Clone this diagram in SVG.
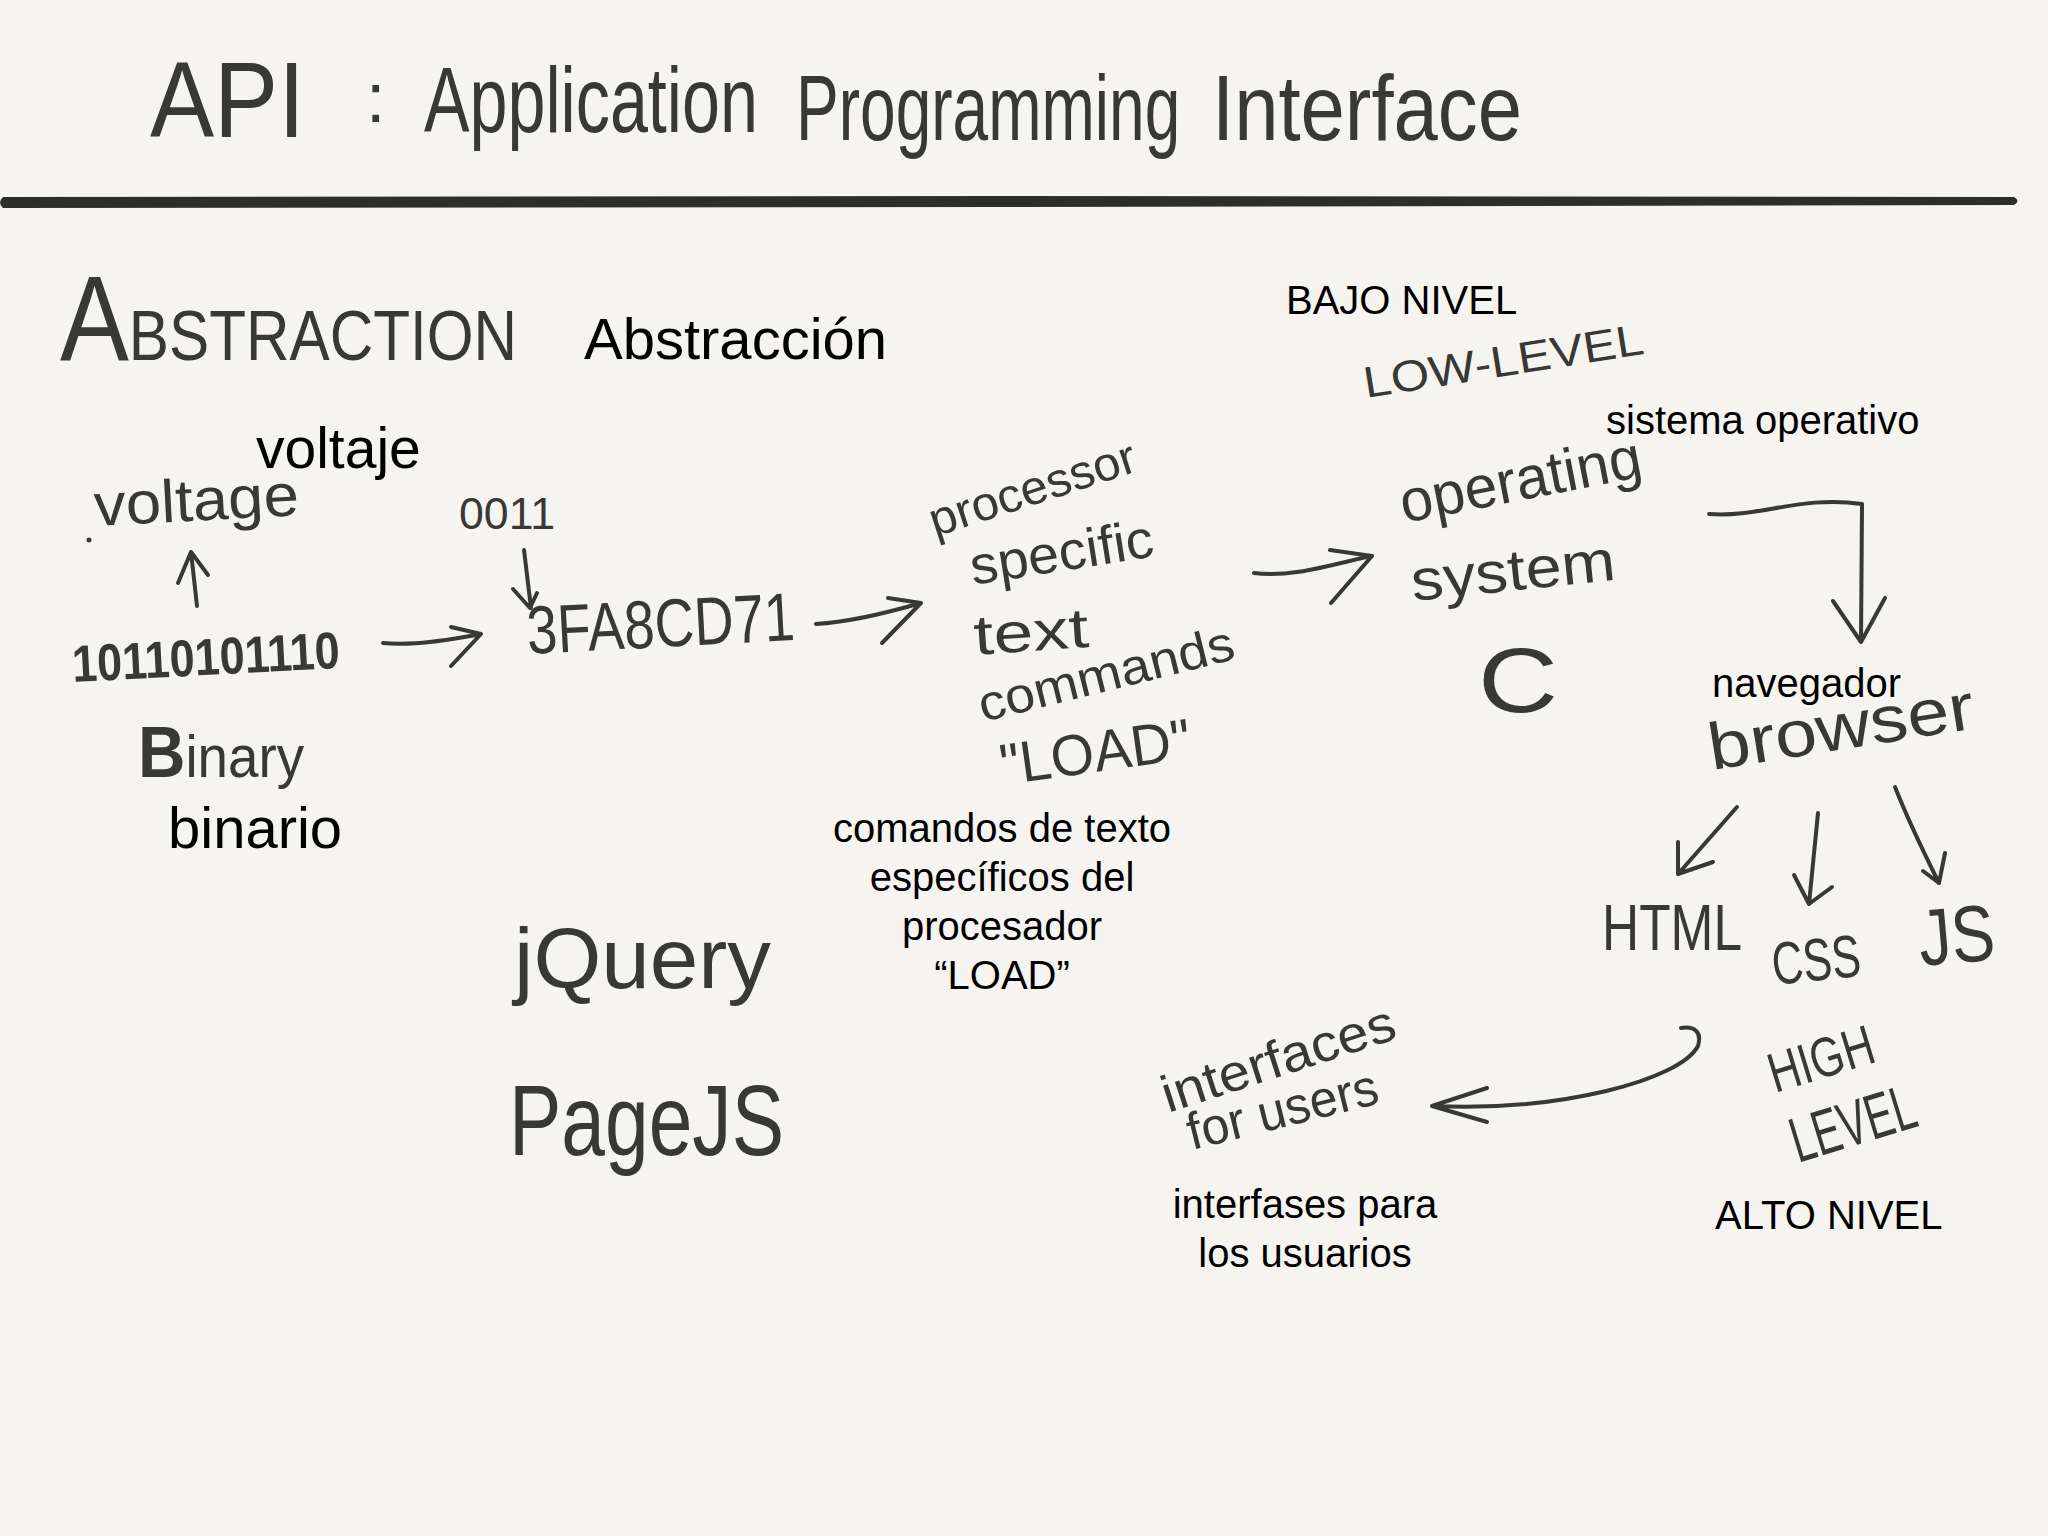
<svg xmlns="http://www.w3.org/2000/svg" width="2048" height="1536" viewBox="0 0 2048 1536">
<defs>
<style>
.hw{font-family:"Liberation Sans",Arial,sans-serif;fill:#383836;}
.pt{font-family:"Liberation Sans",Arial,sans-serif;fill:#000;}
.ln{fill:none;stroke:#383836;stroke-width:4;stroke-linecap:round;stroke-linejoin:round;}
</style>
</defs>
<rect width="2048" height="1536" fill="#f5f4f0"/>
<g id="title">
<text class="hw" transform="translate(150,137) scale(0.89,1)" font-size="108">API</text>
<text class="hw" transform="translate(366,122)" font-size="70">:</text>
<text class="hw" transform="translate(424,132) scale(0.742,1)" font-size="92">Application</text>
<text class="hw" transform="translate(796,140) scale(0.696,1)" font-size="92">Programming</text>
<text class="hw" transform="translate(1212,140) scale(0.866,1)" font-size="92">Interface</text>
<path d="M3,197 L1000,196 L2014,197 Q2021,201 2014,205 L1000,207 L3,208 Q-3,203 3,197 Z" fill="#2d2d2b"/>
</g>
<g id="abstraction">
<text class="hw" x="60" y="360" textLength="457" lengthAdjust="spacingAndGlyphs"><tspan font-size="120">A</tspan><tspan font-size="70">BSTRACTION</tspan></text>
<text class="pt" x="584" y="359" font-size="58">Abstracción</text>
</g>
<g id="voltage">
<text class="pt" x="256" y="468" font-size="57">voltaje</text>
<text class="hw" transform="translate(95,526) rotate(-3)" font-size="60" textLength="205" lengthAdjust="spacingAndGlyphs">voltage</text>
<circle cx="89" cy="540" r="2.5" fill="#383836"/>
</g>
<g id="binary">
<text class="hw" transform="translate(73,682) rotate(-3)" font-size="52" font-weight="bold" textLength="268" lengthAdjust="spacingAndGlyphs">10110101110</text>
<text class="hw" transform="translate(138,777)" font-size="60" textLength="166" lengthAdjust="spacingAndGlyphs"><tspan font-weight="bold" font-size="72">B</tspan>inary</text>
<text class="pt" x="168" y="848" font-size="58">binario</text>
</g>
<g id="hex">
<text class="hw" transform="translate(459,529)" font-size="44" textLength="96" lengthAdjust="spacingAndGlyphs">0011</text>
<text class="hw" transform="translate(528,654) rotate(-3)" font-size="68" textLength="268" lengthAdjust="spacingAndGlyphs">3FA8CD71</text>
</g>
<g id="processor">
<text class="hw" transform="translate(935,537) rotate(-18)" font-size="48" textLength="215" lengthAdjust="spacingAndGlyphs">processor</text>
<text class="hw" transform="translate(973,585) rotate(-9)" font-size="54" textLength="185" lengthAdjust="spacingAndGlyphs">specific</text>
<text class="hw" transform="translate(975,655) rotate(-4)" font-size="56" textLength="115" lengthAdjust="spacingAndGlyphs">text</text>
<text class="hw" transform="translate(983,722) rotate(-14)" font-size="50" textLength="262" lengthAdjust="spacingAndGlyphs">commands</text>
<text class="hw" transform="translate(1003,785) rotate(-8)" font-size="58" textLength="192" lengthAdjust="spacingAndGlyphs">"LOAD"</text>
<text class="pt" font-size="40" text-anchor="middle"><tspan x="1002" y="842">comandos de texto</tspan><tspan x="1002" y="891">específicos del</tspan><tspan x="1002" y="940">procesador</tspan><tspan x="1002" y="989">“LOAD”</tspan></text>
</g>
<g id="low-level">
<text class="pt" x="1286" y="314" font-size="40">BAJO NIVEL</text>
<text class="hw" transform="translate(1366,398) rotate(-9)" font-size="44" textLength="283" lengthAdjust="spacingAndGlyphs">LOW-LEVEL</text>
</g>
<g id="operating-system">
<text class="pt" x="1606" y="434" font-size="40">sistema operativo</text>
<text class="hw" transform="translate(1404,523) rotate(-11)" font-size="60" textLength="245" lengthAdjust="spacingAndGlyphs">operating</text>
<text class="hw" transform="translate(1413,601) rotate(-6)" font-size="58" textLength="205" lengthAdjust="spacingAndGlyphs">system</text>
<text class="hw" transform="translate(1478,712)" font-size="90" textLength="80" lengthAdjust="spacingAndGlyphs">C</text>
</g>
<g id="browser">
<text class="pt" x="1712" y="697" font-size="40">navegador</text>
<text class="hw" transform="translate(1712,770) rotate(-9)" font-size="66" textLength="268" lengthAdjust="spacingAndGlyphs">browser</text>
</g>
<g id="html"><text class="hw" transform="translate(1602,950)" font-size="64" textLength="140" lengthAdjust="spacingAndGlyphs">HTML</text></g>
<g id="css"><text class="hw" transform="translate(1774,985) rotate(-6)" font-size="60" textLength="89" lengthAdjust="spacingAndGlyphs">CSS</text></g>
<g id="js"><text class="hw" transform="translate(1921,966) rotate(-5)" font-size="80" textLength="76" lengthAdjust="spacingAndGlyphs">JS</text></g>
<g id="interfaces">
<text class="hw" transform="translate(1168,1113) rotate(-18)" font-size="52" textLength="243" lengthAdjust="spacingAndGlyphs">interfaces</text>
<text class="hw" transform="translate(1192,1150) rotate(-14)" font-size="52" textLength="195" lengthAdjust="spacingAndGlyphs">for users</text>
<text class="pt" font-size="40" text-anchor="middle"><tspan x="1305" y="1218">interfases para</tspan><tspan x="1305" y="1267">los usuarios</tspan></text>
</g>
<g id="high-level">
<text class="hw" transform="translate(1775,1093) rotate(-17)" font-size="56" textLength="108" lengthAdjust="spacingAndGlyphs">HIGH</text>
<text class="hw" transform="translate(1798,1163) rotate(-17)" font-size="64" textLength="128" lengthAdjust="spacingAndGlyphs">LEVEL</text>
<text class="pt" x="1715" y="1229" font-size="40">ALTO NIVEL</text>
</g>
<g id="libraries">
<text class="hw" transform="translate(514,988)" font-size="86" textLength="257" lengthAdjust="spacingAndGlyphs">jQuery</text>
<text class="hw" transform="translate(509,1155)" font-size="100" textLength="275" lengthAdjust="spacingAndGlyphs">PageJS</text>
</g>
<g id="connectors">
<path class="ln" d="M197,606 L191,552 M178,583 L191,552 L208,575"/>
<path class="ln" d="M524,550 L531,608 M513,589 L530,608 L537,593"/>
<path class="ln" d="M383,643 C410,646 450,640 481,634 M451,627 L481,634 L451,666"/>
<path class="ln" d="M816,624 C850,622 890,612 921,603 M888,598 L921,603 L882,643"/>
<path class="ln" d="M1254,573 C1290,578 1330,565 1371,556 M1330,550 L1372,556 L1331,603"/>
<path class="ln" stroke-width="3" d="M1709,514 C1760,518 1800,495 1862,504 L1861,642 M1833,601 L1861,642 L1885,598"/>
<path class="ln" stroke-width="3" d="M1737,807 L1678,874 M1678,842 L1678,874 L1713,862"/>
<path class="ln" stroke-width="3" d="M1818,813 L1809,904 M1794,875 L1809,904 L1832,887"/>
<path class="ln" stroke-width="3" d="M1895,787 C1908,820 1925,855 1939,883 M1923,871 L1939,883 L1945,853"/>
<path class="ln" stroke-width="5" d="M1681,1028 C1695,1026 1702,1032 1698,1046 C1680,1080 1560,1112 1432,1106 M1487,1088 L1432,1106 L1487,1122"/>
</g>
</svg>
